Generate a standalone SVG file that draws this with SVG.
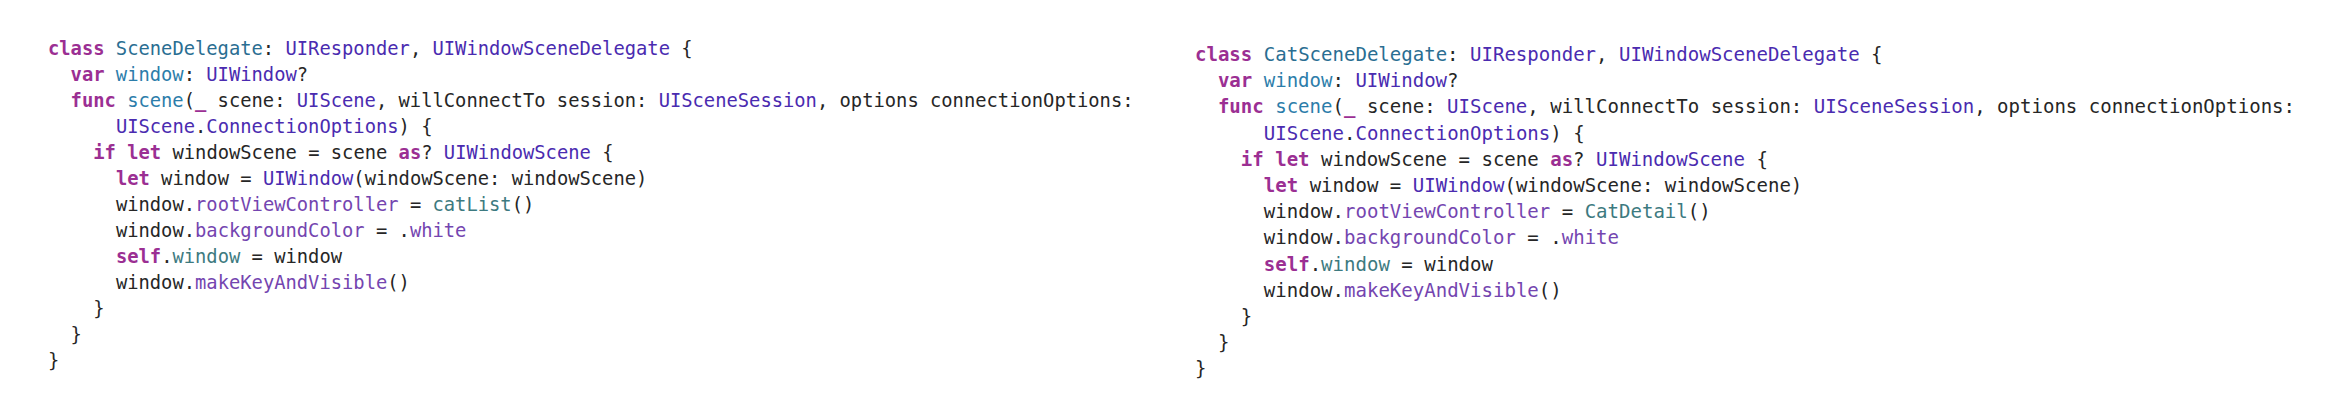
<svg xmlns="http://www.w3.org/2000/svg" width="2352" height="400" viewBox="0 0 2352 400">
<style>
text{font-family:"DejaVu Sans Mono","Liberation Mono",monospace;font-size:18.8px;fill:#262626}
#cat-scene-delegate text{font-size:19.04px}
.k{fill:#9B2F93;font-weight:bold}
.d{fill:#2A6E92}
.o{fill:#2C7DAA}
.t{fill:#4A2BB0}
.m{fill:#7445B0}
.p{fill:#3D7A80}
</style>
<rect width="2352" height="400" fill="#ffffff"/>
<g id="scene-delegate">
<text xml:space="preserve" x="48" y="55"><tspan class="k">class</tspan> <tspan class="d">SceneDelegate</tspan>: <tspan class="t">UIResponder</tspan>, <tspan class="t">UIWindowSceneDelegate</tspan> {</text>
<text xml:space="preserve" x="70.6" y="81"><tspan class="k">var</tspan> <tspan class="o">window</tspan>: <tspan class="t">UIWindow</tspan>?</text>
<text xml:space="preserve" x="70.6" y="107"><tspan class="k">func</tspan> <tspan class="o">scene</tspan>(<tspan class="k">_</tspan> scene: <tspan class="t">UIScene</tspan>, willConnectTo session: <tspan class="t">UISceneSession</tspan>, options connectionOptions:</text>
<text xml:space="preserve" x="115.9" y="133"><tspan class="t">UIScene</tspan>.<tspan class="t">ConnectionOptions</tspan>) {</text>
<text xml:space="preserve" x="93.3" y="159"><tspan class="k">if</tspan> <tspan class="k">let</tspan> windowScene = scene <tspan class="k">as</tspan>? <tspan class="t">UIWindowScene</tspan> {</text>
<text xml:space="preserve" x="115.9" y="185"><tspan class="k">let</tspan> window = <tspan class="t">UIWindow</tspan>(windowScene: windowScene)</text>
<text xml:space="preserve" x="115.9" y="211">window.<tspan class="m">rootViewController</tspan> = <tspan class="p">catList</tspan>()</text>
<text xml:space="preserve" x="115.9" y="237">window.<tspan class="m">backgroundColor</tspan> = .<tspan class="m">white</tspan></text>
<text xml:space="preserve" x="115.9" y="263"><tspan class="k">self</tspan>.<tspan class="p">window</tspan> = window</text>
<text xml:space="preserve" x="115.9" y="289">window.<tspan class="m">makeKeyAndVisible</tspan>()</text>
<text x="93.3" y="315">}</text>
<text x="70.6" y="341">}</text>
<text x="48" y="367">}</text>
</g>
<g id="cat-scene-delegate">
<text xml:space="preserve" x="1195" y="61"><tspan class="k">class</tspan> <tspan class="d">CatSceneDelegate</tspan>: <tspan class="t">UIResponder</tspan>, <tspan class="t">UIWindowSceneDelegate</tspan> {</text>
<text xml:space="preserve" x="1217.9" y="87.2"><tspan class="k">var</tspan> <tspan class="o">window</tspan>: <tspan class="t">UIWindow</tspan>?</text>
<text xml:space="preserve" x="1217.9" y="113.4"><tspan class="k">func</tspan> <tspan class="o">scene</tspan>(<tspan class="k">_</tspan> scene: <tspan class="t">UIScene</tspan>, willConnectTo session: <tspan class="t">UISceneSession</tspan>, options connectionOptions:</text>
<text xml:space="preserve" x="1263.8" y="139.6"><tspan class="t">UIScene</tspan>.<tspan class="t">ConnectionOptions</tspan>) {</text>
<text xml:space="preserve" x="1240.8" y="165.8"><tspan class="k">if</tspan> <tspan class="k">let</tspan> windowScene = scene <tspan class="k">as</tspan>? <tspan class="t">UIWindowScene</tspan> {</text>
<text xml:space="preserve" x="1263.8" y="192"><tspan class="k">let</tspan> window = <tspan class="t">UIWindow</tspan>(windowScene: windowScene)</text>
<text xml:space="preserve" x="1263.8" y="218.2">window.<tspan class="m">rootViewController</tspan> = <tspan class="p">CatDetail</tspan>()</text>
<text xml:space="preserve" x="1263.8" y="244.4">window.<tspan class="m">backgroundColor</tspan> = .<tspan class="m">white</tspan></text>
<text xml:space="preserve" x="1263.8" y="270.6"><tspan class="k">self</tspan>.<tspan class="p">window</tspan> = window</text>
<text xml:space="preserve" x="1263.8" y="296.8">window.<tspan class="m">makeKeyAndVisible</tspan>()</text>
<text x="1240.8" y="323">}</text>
<text x="1217.9" y="349.2">}</text>
<text x="1195" y="375.4">}</text>
</g>
</svg>
